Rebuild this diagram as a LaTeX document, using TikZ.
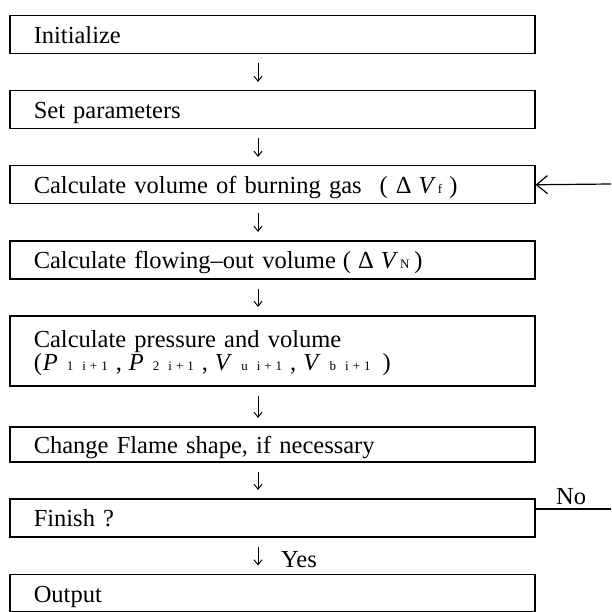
\documentclass[tikz,border=0pt]{standalone}
\usepackage{fontspec}
\setmainfont{Liberation Serif}
\usetikzlibrary{arrows.meta}
\newcommand{\lo}[1]{{\fontsize{13}{13}\selectfont #1}}
\newcommand{\subgrp}[2]{\hspace{9pt}\lo{#1\hspace{9pt}#2\hspace{4pt}+\hspace{4pt}1}}
\begin{document}
\begin{tikzpicture}[x=1pt,y=-1pt,
  flowbox/.style={draw, line width=1.5pt, rectangle, anchor=north west,
    minimum width=525pt, minimum height=38pt, text width=477pt,
    inner xsep=24pt, inner ysep=0pt, align=left,
    font=\fontsize{24.5}{23}\selectfont, text height=21pt, text depth=3pt},
  flowarr/.style={line width=1pt, -{Straight Barb[length=5pt,width=8pt,line width=1pt]},
    shorten <=9pt, shorten >=8pt},
  inarr/.style={line width=1.2pt, -{Straight Barb[length=11pt,width=18pt,line width=1.2pt]}},
  plainline/.style={line width=1.2pt},
  lbl/.style={font=\fontsize{24.5}{24}\selectfont, inner sep=0pt}]
\useasboundingbox (0,0) rectangle (611,612);

\node[flowbox] (b1) at (9,15) {Initialize};
\node[flowbox] (b2) at (9,90) {Set parameters};
\node[flowbox] (b3) at (9,165) {Calculate volume of burning gas\hspace{18pt}(\hspace{8pt}Δ\hspace{7pt}\textit{V}\hspace{2pt}\lo{f}\hspace{7pt})};
\node[flowbox] (b4) at (9,240) {Calculate flowing–out volume\hspace{7pt}(\hspace{7pt}Δ\hspace{7pt}\textit{V}\hspace{2pt}\lo{N}\hspace{5pt})};
\node[flowbox, minimum height=70pt, text height=20pt, text depth=26pt] (b5) at (9,315)
  {Calculate pressure and volume\\
   (\hspace{1pt}\textit{P}\subgrp{1}{i}\hspace{8pt},\hspace{7pt}\textit{P}\subgrp{2}{i}\hspace{8pt},\hspace{7pt}\textit{V}\subgrp{u}{i}\hspace{8pt},\hspace{7pt}\textit{V}\subgrp{b}{i}\hspace{12pt})};
\node[flowbox, minimum height=35pt] (b6) at (9,426) {Change Flame shape, if necessary};
\node[flowbox] (b7) at (9,498) {Finish ?};
\node[flowbox, minimum height=37.5pt] (b8) at (9,573.5) {Output};

\coordinate (ax) at (258,0);
\draw[flowarr] (b1.south -| ax) -- (b2.north -| ax);
\draw[flowarr] (b2.south -| ax) -- (b3.north -| ax);
\draw[flowarr] (b3.south -| ax) -- (b4.north -| ax);
\draw[flowarr] (b4.south -| ax) -- (b5.north -| ax);
\draw[flowarr] (b5.south -| ax) -- (b6.north -| ax);
\draw[flowarr] (b6.south -| ax) -- (b7.north -| ax);
\draw[flowarr] (b7.south -| ax) -- (b8.north -| ax);

\coordinate (loopin) at (611,184);
\draw[inarr] (loopin) -- (b3.east);
\coordinate (noend) at (611,509);
\draw[plainline] (b7.east |- noend) -- (noend);

\node[lbl, anchor=base west] (no) at (556,504) {No};
\node[lbl, anchor=base west] (yes) at (281,567) {Yes};
\end{tikzpicture}
\end{document}
